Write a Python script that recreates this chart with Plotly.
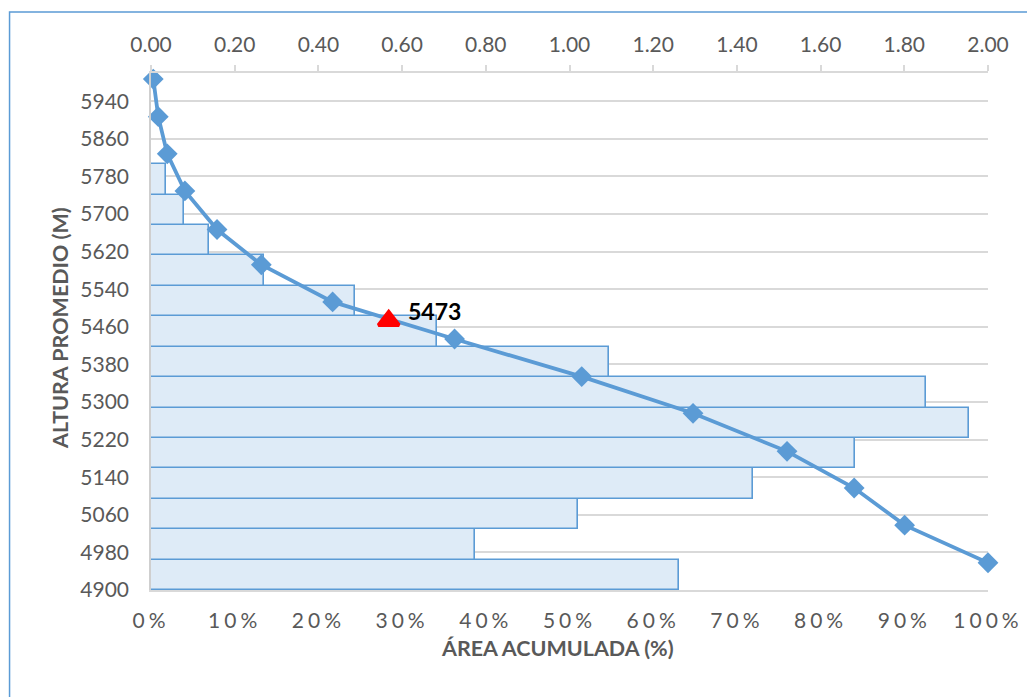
import plotly.graph_objects as go

# ---------------- data ----------------
# Elevation bands (bottom to top) and the area of each band (top axis, 0.00-2.00)
band_number = [1, 2, 3, 4, 5, 6, 7, 8, 9, 10, 11, 12, 13, 14]
band_area = [1.262, 0.774, 1.021, 1.438, 1.683, 1.955, 1.852,
             1.095, 0.683, 0.488, 0.269, 0.139, 0.078, 0.037]

# Hypsometric curve: cumulative area (%) vs mean elevation (m)
cum_area_pct = [0.27, 0.87, 1.94, 4.05, 7.89, 13.18, 21.70,
                36.27, 51.46, 64.76, 75.99, 84.01, 90.04, 100.0]
elev_mean = [5987, 5907, 5828, 5749, 5667, 5592, 5513,
             5434, 5354, 5276, 5195, 5117, 5038, 4958]

# Median elevation marker
median_pct = [28.4]
median_elev = [5473]
median_label = "5473"

# Tick definitions
top_ticks = [0.0, 0.2, 0.4, 0.6, 0.8, 1.0, 1.2, 1.4, 1.6, 1.8, 2.0]
elev_ticks = [4900, 4980, 5060, 5140, 5220, 5300, 5380, 5460,
              5540, 5620, 5700, 5780, 5860, 5940]
pct_ticks = [0, 10, 20, 30, 40, 50, 60, 70, 80, 90, 100]
pct_labels = ["0%", "10%", "20%", "30%", "40%", "50%",
              "60%", "70%", "80%", "90%", "100%"]

x_title = "ÁREA ACUMULADA (%)"
y_title = "ALTURA PROMEDIO (M)"

# ---------------- style ----------------
FONT = "Lato"
GRAY = "#595959"
GRID = "#D9D9D9"
BLUE = "#5B9BD5"
FS = 21

fig = go.Figure()

fig.add_trace(go.Bar(
    x=band_area, y=band_number, orientation="h",
    xaxis="x", yaxis="y", width=1,
    marker=dict(color="#DEEBF7", line=dict(color=BLUE, width=1.6)),
    hoverinfo="x", showlegend=False,
))

fig.add_trace(go.Scatter(
    x=cum_area_pct, y=elev_mean, xaxis="x2", yaxis="y2",
    mode="lines+markers", cliponaxis=False,
    line=dict(color=BLUE, width=3.8),
    marker=dict(symbol="diamond", size=16, color=BLUE),
    showlegend=False,
))

fig.add_trace(go.Scatter(
    x=median_pct, y=median_elev, xaxis="x2", yaxis="y2",
    mode="markers", cliponaxis=False,
    marker=dict(symbol="triangle-up", size=18, color="#FF0000",
                line=dict(color="#FF0000", width=3.5)),
    showlegend=False,
))

fig.add_annotation(
    x=median_pct[0], y=median_elev[0], xref="x2", yref="y2",
    text="<b>" + median_label + "</b>", showarrow=False,
    xanchor="left", yanchor="middle", xshift=17, yshift=10,
    font=dict(family=FONT, size=23, color="#000000"),
)

spaced = ['<span style="letter-spacing:4px">' + t + "</span>" for t in pct_labels]

# The page body adds an 8 px offset, so the figure is 8 px smaller
fig.update_layout(
    width=1027, height=689,
    margin=dict(l=143, r=44, t=65, b=107),
    paper_bgcolor="white", plot_bgcolor="white",
    font=dict(family=FONT, size=FS, color=GRAY),
    bargap=0,
    xaxis=dict(
        range=[0, 2], side="top", anchor="y",
        tickvals=top_ticks, tickformat=".2f",
        showgrid=False, zeroline=False,
        showline=True, linecolor=GRID, linewidth=1.5,
        ticks="outside", ticklen=6, tickcolor=GRID, tickwidth=1.5,
        ticklabelstandoff=5,
        tickfont=dict(family=FONT, size=FS, color=GRAY),
        fixedrange=True,
    ),
    yaxis=dict(
        range=[0.5, 17.5], visible=False, showgrid=False, zeroline=False,
        fixedrange=True,
    ),
    xaxis2=dict(
        range=[0, 100], overlaying="x", side="bottom", anchor="y2",
        tickvals=pct_ticks, ticktext=spaced,
        showgrid=False, zeroline=False,
        showline=True, linecolor=GRID, linewidth=1.5, ticks="",
        ticklabelstandoff=11,
        tickfont=dict(family=FONT, size=FS, color=GRAY),
        fixedrange=True,
    ),
    yaxis2=dict(
        range=[4900, 6000], overlaying="y", side="left", anchor="x2",
        tickvals=elev_ticks,
        showgrid=True, gridcolor=GRID, gridwidth=1.5, zeroline=False,
        showline=True, linecolor="#CFCFCF", linewidth=1.5, ticks="",
        ticklabelstandoff=16,
        tickfont=dict(family=FONT, size=FS, color=GRAY),
        fixedrange=True,
    ),
)

fig.add_annotation(
    x=-0.108, y=0.506, xref="paper", yref="paper",
    text="<b>" + y_title + "</b>", showarrow=False, textangle=-90,
    xanchor="center", yanchor="middle",
    font=dict(family=FONT, size=21.5, color=GRAY),
)
fig.add_annotation(
    x=0.486, y=-0.112, xref="paper", yref="paper",
    text="<b>" + x_title + "</b>", showarrow=False,
    xanchor="center", yanchor="middle",
    font=dict(family=FONT, size=21.5, color=GRAY),
)

# outer chart border
fig.add_shape(
    type="rect", xref="paper", yref="paper",
    x0=-0.169, x1=1.3, y0=-0.35, y1=1.118,
    line=dict(color=BLUE, width=1.5), fillcolor="rgba(0,0,0,0)",
)

fig.write_html("out.html")
